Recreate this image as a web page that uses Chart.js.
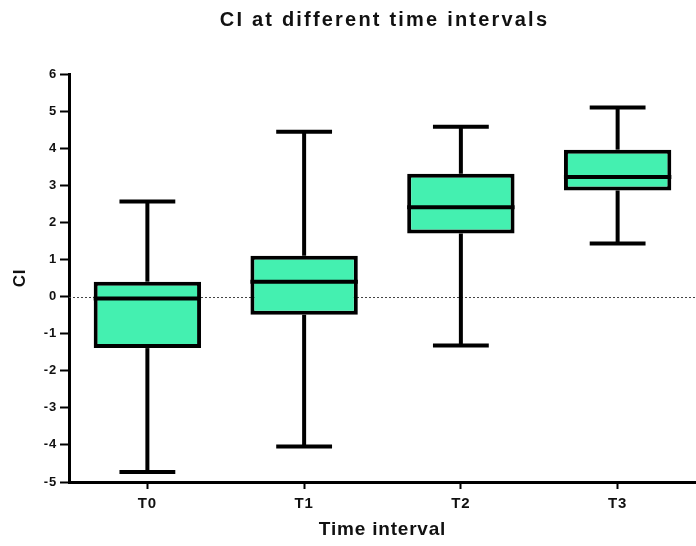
<!DOCTYPE html>
<html>
<head>
<meta charset="utf-8">
<script src="https://cdn.jsdelivr.net/npm/chart.js@4"></script>
<style>
  html, body { margin: 0; padding: 0; background: #fff; }
  #wrap { width: 696px; height: 546px; }
</style>
</head>
<body>
<div id="wrap"><canvas id="chart"></canvas></div>
<script>
const title = 'CI at different time intervals';
const categories = ['T0', 'T1', 'T2', 'T3'];
const mins    = [-4.73, -4.04, -1.32, 1.43];
const q1s     = [-1.39, -0.49, 1.70, 2.86];
const medians = [-0.05, 0.40, 2.41, 3.22];
const q3s     = [0.40, 1.10, 3.31, 3.96];
const maxs    = [2.56, 4.44, 4.58, 5.10];
const yMin = -5, yMax = 6;

const FONT = "'Liberation Sans', Arial, sans-serif";
const INK = '#111';

// the source image has loosely spaced lettering
const spacing = {
  id: 'spacing',
  beforeDraw(chart) { chart.ctx.letterSpacing = '0.8px'; }
};

// title centred over the plot area
const plotTitle = {
  id: 'plotTitle',
  afterDraw(chart) {
    const { ctx, chartArea } = chart;
    ctx.save();
    ctx.letterSpacing = '2.2px';
    ctx.font = `bold 20px ${FONT}`;
    ctx.fillStyle = INK;
    ctx.textAlign = 'center';
    ctx.textBaseline = 'middle';
    ctx.fillText(title, (chartArea.left + chartArea.right) / 2 + 2, 20);
    ctx.restore();
  }
};

// whiskers, caps, medians and the dotted zero line, placed through the chart's scales
const boxParts = {
  id: 'boxParts',
  beforeDatasetsDraw(chart) {
    const { ctx, chartArea, scales: { y } } = chart;
    const y0 = y.getPixelForValue(0);
    ctx.save();
    ctx.strokeStyle = '#444';
    ctx.lineWidth = 1;
    ctx.setLineDash([2, 2]);
    ctx.beginPath();
    ctx.moveTo(chartArea.left, Math.round(y0) + 0.5);
    ctx.lineTo(chartArea.right, Math.round(y0) + 0.5);
    ctx.stroke();
    ctx.restore();
  },
  afterDatasetsDraw(chart) {
    const { ctx, scales: { x, y } } = chart;
    const bars = chart.getDatasetMeta(0).data;
    ctx.save();
    ctx.strokeStyle = '#000';
    ctx.lineWidth = 4;
    ctx.lineCap = 'butt';
    const line = (x1, y1, x2, y2) => { ctx.beginPath(); ctx.moveTo(x1, y1); ctx.lineTo(x2, y2); ctx.stroke(); };
    categories.forEach((c, i) => {
      const cx = x.getPixelForValue(i);
      const bw = bars[i].width;
      const cap = bw * 0.26;
      line(cx, y.getPixelForValue(q3s[i]), cx, y.getPixelForValue(maxs[i]));
      line(cx, y.getPixelForValue(q1s[i]), cx, y.getPixelForValue(mins[i]));
      line(cx - cap, y.getPixelForValue(maxs[i]), cx + cap, y.getPixelForValue(maxs[i]));
      line(cx - cap, y.getPixelForValue(mins[i]), cx + cap, y.getPixelForValue(mins[i]));
      line(cx - bw / 2, y.getPixelForValue(medians[i]), cx + bw / 2, y.getPixelForValue(medians[i]));
    });
    ctx.restore();
  }
};

new Chart(document.getElementById('chart'), {
  type: 'bar',
  data: {
    labels: categories,
    datasets: [{
      data: categories.map((c, i) => [q1s[i], q3s[i]]),
      backgroundColor: '#44F0B0',
      borderColor: '#000',
      borderWidth: 4,
      borderSkipped: false,
      categoryPercentage: 1,
      barPercentage: 0.685
    }]
  },
  options: {
    responsive: true,
    maintainAspectRatio: false,
    animation: false,
    layout: { padding: { top: 74, left: 0, right: 0, bottom: 0 } },
    plugins: {
      legend: { display: false },
      tooltip: { enabled: false },
      title: { display: false }
    },
    scales: {
      x: {
        type: 'category',
        offset: true,
        afterFit: s => { s.height = 64; },
        grid: { display: true, offset: false, drawOnChartArea: false, drawTicks: true, tickLength: 7, tickWidth: 2, tickColor: '#000' },
        border: { display: true, color: '#000', width: 3 },
        ticks: { color: INK, font: { family: FONT, size: 15, weight: 'bold' }, padding: 6, maxRotation: 0 },
        title: { display: true, text: 'Time interval', color: INK, font: { family: FONT, size: 19, weight: 'bold' }, padding: { top: 0, bottom: 5 } }
      },
      y: {
        min: yMin,
        max: yMax,
        afterFit: s => { s.width = 69; },
        grid: { display: true, drawOnChartArea: false, drawTicks: true, tickLength: 9, tickWidth: 2, tickColor: '#000' },
        border: { display: true, color: '#000', width: 3 },
        ticks: { stepSize: 1, color: INK, font: { family: FONT, size: 13, weight: 'bold' }, padding: 3 },
        title: { display: true, text: 'CI', color: INK, font: { family: FONT, size: 17, weight: 'bold' }, padding: { top: 10, bottom: 0 } }
      }
    }
  },
  plugins: [spacing, plotTitle, boxParts]
});
</script>
</body>
</html>
